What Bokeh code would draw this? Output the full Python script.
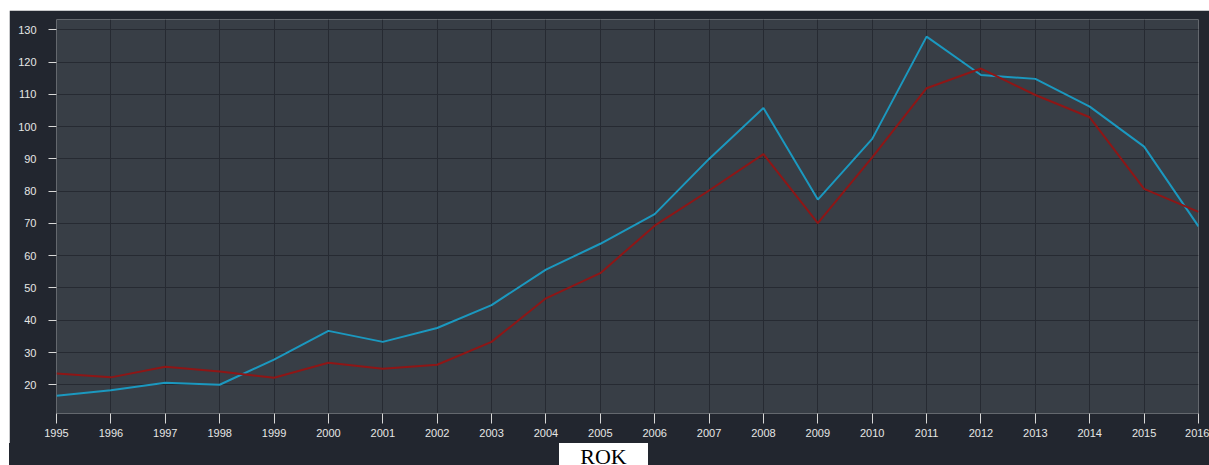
from bokeh.plotting import figure
from bokeh.models import FixedTicker, Range1d, Spacer, Div
from bokeh.layouts import column, row
from bokeh.embed import file_html
from bokeh.resources import INLINE

years = list(range(1995, 2017))
blue = [16.6, 18.3, 20.6, 20.0, 27.8, 36.7, 33.3, 37.6, 44.7, 55.7, 63.7, 72.9,
        90.0, 105.8, 77.4, 96.2, 127.9, 116.0, 114.8, 106.2, 93.8, 69.1]
red = [23.5, 22.3, 25.6, 24.1, 22.2, 26.8, 25.0, 26.2, 33.3, 46.8, 54.6, 69.3,
       80.2, 91.5, 70.1, 90.5, 111.9, 118.0, 109.8, 102.9, 80.7, 73.6]
y_ticks = list(range(20, 140, 10))
x_label = "ROK"

BG = "#22262f"

p = figure(width=1200, height=433, output_backend="svg", toolbar_location=None,
           x_range=Range1d(1995, 2016), y_range=Range1d(11.1, 133.2),
           min_border_left=47, min_border_right=11, min_border_top=9, min_border_bottom=30)
p.background_fill_color = "#383e46"
p.border_fill_color = BG
p.outline_line_color = None

p.line(years, blue, line_color="#1b98bf", line_width=2)
p.line(years, red, line_color="#8e1616", line_width=2)

for ax in (p.xaxis, p.yaxis):
    ax.axis_line_color = None
    ax.minor_tick_line_color = None
    ax.major_tick_line_color = "#d8d8d8"
    ax.major_tick_line_width = 1
    ax.major_tick_in = 0
    ax.major_label_text_color = "#e6e6e6"
    ax.major_label_text_font = "Liberation Sans"
    ax.major_label_text_font_size = "11px"

p.xaxis.ticker = FixedTicker(ticks=years)
p.yaxis.ticker = FixedTicker(ticks=y_ticks)
p.xaxis.major_tick_out = 10
p.xaxis.major_label_standoff = 5
p.yaxis.major_tick_out = 8
p.yaxis.major_label_standoff = 12

p.xgrid.ticker = FixedTicker(ticks=years)
p.ygrid.ticker = FixedTicker(ticks=y_ticks)
for g in (p.xgrid, p.ygrid):
    g.grid_line_color = "#262a32"
    g.grid_line_width = 1

box = Div(width=1200, height=22, margin=0,
          styles={"background-color": BG, "overflow": "hidden"},
          text=('<div style="margin-left:550px;width:89px;height:40px;background:#ffffff;'
                'color:#000;font-family:\'Liberation Serif\',serif;font-size:22px;'
                'line-height:22px;padding-top:3px;box-sizing:border-box;text-align:center;">'
                + x_label + '</div>'))

layout = column(Spacer(height=10), row(Spacer(width=9), column(p, box)))
open("out.html", "w").write(file_html(layout, INLINE))
